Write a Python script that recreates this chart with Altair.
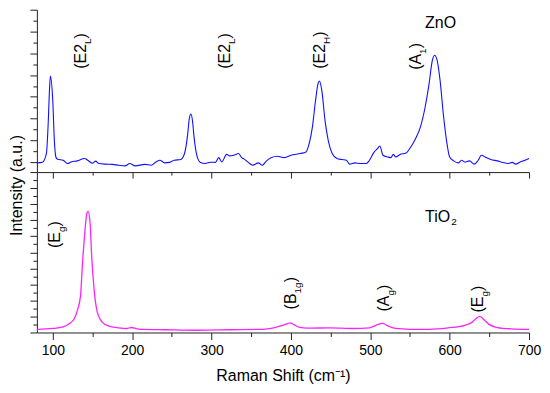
import altair as alt
import pandas as pd

# ---------------- data ----------------
zno_shift = [80, 87, 92, 94, 96, 97, 100, 102, 104, 106, 113, 119, 123, 131, 140, 144, 150, 154,
             158, 166, 175, 183, 191, 197, 204, 216, 224, 230, 235, 241, 247, 253, 261, 266, 270,
             272, 274, 276, 278, 282, 286, 292, 299, 305, 309, 313, 319, 323, 328, 334, 338, 342,
             348, 352, 359, 364, 369, 375, 383, 392, 400, 412, 419, 423, 427, 431, 434, 436, 439,
             443, 447, 452, 458, 464, 470, 474, 481, 487, 495, 499, 505, 509, 512, 516, 522, 526,
             529, 532, 538, 545, 551, 557, 563, 569, 574, 578, 581, 584, 588, 592, 596, 600, 605,
             611, 615, 619, 625, 631, 636, 640, 646, 652, 660, 667, 673, 679, 683, 689, 695, 700]
zno_int = [-0.03, 0.00, 0.41, 1.59, 3.41, 3.95, 2.82, 1.00, 0.23, 0.14, 0.09, -0.06, 0.01, 0.06,
           0.17, 0.09, -0.05, 0.05, -0.06, -0.09, -0.10, -0.14, -0.17, -0.06, -0.17, -0.10, -0.14,
           0.01, 0.09, -0.03, -0.01, 0.09, 0.12, 0.40, 1.30, 2.00, 2.21, 1.91, 1.15, 0.24, -0.01,
           -0.06, 0.00, -0.01, 0.21, 0.01, 0.36, 0.29, 0.32, 0.40, 0.21, 0.12, -0.06, -0.14, -0.03,
           -0.14, 0.05, 0.20, 0.27, 0.21, 0.32, 0.40, 0.47, 0.85, 1.60, 2.82, 3.58, 3.73, 3.27,
           1.91, 1.00, 0.40, 0.17, 0.12, 0.09, -0.09, -0.03, -0.06, -0.06, 0.09, 0.47, 0.62, 0.74,
           0.32, 0.24, 0.21, 0.36, 0.24, 0.36, 0.42, 0.70, 1.08, 1.60, 2.51, 3.58, 4.64, 4.91,
           4.71, 3.73, 2.21, 1.00, 0.24, 0.06, -0.03, 0.09, 0.01, 0.06, -0.09, 0.09, 0.32, 0.21,
           0.12, 0.06, -0.01, -0.06, -0.01, -0.09, 0.01, 0.09, 0.17]

tio2_shift = [80, 100, 113, 121, 127, 131, 135, 137, 140, 143, 144.5, 147, 149, 152, 156, 162, 170,
              183, 193, 199, 206, 216, 241, 282, 323, 365, 375, 387, 396, 399, 404, 410, 421, 450,
              478, 499, 507, 516, 522, 532, 549, 574, 598, 619, 627, 633, 638, 644, 650, 660, 677, 700]
tio2_int = [0.20, 0.25, 0.35, 0.56, 0.86, 1.38, 2.30, 3.95, 6.01, 7.45, 7.55, 6.83, 4.77, 2.72,
            1.28, 0.66, 0.41, 0.29, 0.25, 0.31, 0.23, 0.19, 0.17, 0.14, 0.17, 0.20, 0.25, 0.41,
            0.56, 0.60, 0.49, 0.33, 0.27, 0.29, 0.25, 0.29, 0.45, 0.57, 0.41, 0.25, 0.20, 0.20,
            0.29, 0.45, 0.60, 0.86, 1.01, 0.76, 0.49, 0.31, 0.23, 0.20]

# peak labels (anchor = start of rotated text)
top_lbl_shift = [135, 317, 437, 558]
top_lbl_int = [4.29, 4.29, 4.29, 4.24]
top_lbl_main = ["(E2", "(E2", "(E2", "(A"]
top_lbl_sub = ["L", "L", "H", "1"]

bot_lbl_shift = [103, 400, 517, 636]
bot_lbl_int = [5.27, 1.44, 1.31, 1.25]
bot_lbl_main = ["(E", "(B", "(A", "(E"]
bot_lbl_sub = ["g", "1g", "g", "g"]

name_shift = [569, 569]
name_top_int = [6.41]
name_bot_int = [7.19]

x_major = list(range(100, 701, 100))
x_minor = list(range(150, 700, 100))
top_y_major = list(range(0, 8))
top_y_minor = [i + 0.5 for i in range(0, 7)]
bot_y_major = list(range(0, 11))
bot_y_minor = [i + 0.5 for i in range(0, 10)]

# ---------------- style ----------------
FONT = "Liberation Sans"
AX = "#222222"
MAIN_FS = 16
SUB_FS = 10
ADV = {"(": .333, ")": .333, "E": .667, "A": .667, "B": .667, "2": .556, "1": .556,
       "L": .556, "H": .722, "g": .556, "T": .611, "i": .222, "O": .778}


def text_w(s, size):
    return sum(ADV[c] for c in s) * size


x_scale = alt.Scale(domain=[80, 700], nice=False, zero=False)
top_scale = alt.Scale(domain=[-0.4545, 7], nice=False, zero=False)
bot_scale = alt.Scale(domain=[0, 10], nice=False, zero=False)

W = 494
H_TOP = 163
H_BOT = 161

AXSTYLE = dict(grid=False, domainColor=AX, tickColor=AX, domainWidth=1, tickWidth=1)


def label_df(shift, inten, main, sub):
    return pd.DataFrame({
        "w": shift, "v": inten, "main": main, "sub": sub,
        "close": [")"] * len(main),
        "dsub": [text_w(m, MAIN_FS) for m in main],
        "dclose": [text_w(m, MAIN_FS) + text_w(s, SUB_FS) for m, s in zip(main, sub)],
    })


def label_layers(df, yscale):
    enc = dict(x=alt.X("w:Q", scale=x_scale, axis=None), y=alt.Y("v:Q", scale=yscale, axis=None))
    common = dict(angle=270, align="left", baseline="middle", font=FONT, color="black")
    base = alt.Chart(df).mark_text(fontSize=MAIN_FS, **common).encode(text="main:N", **enc)
    sub = alt.Chart(df).mark_text(fontSize=SUB_FS, dy=7, dx=alt.ExprRef(expr="datum.dsub"),
                                  **common).encode(text="sub:N", **enc)
    close = alt.Chart(df).mark_text(fontSize=MAIN_FS, dx=alt.ExprRef(expr="datum.dclose"),
                                    **common).encode(text="close:N", **enc)
    return [base, sub, close]


# ---------------- top panel (ZnO) ----------------
zno_df = pd.DataFrame({"w": zno_shift, "v": zno_int})
top_line = alt.Chart(zno_df).mark_line(
    color="#1010ff", strokeWidth=1.1, interpolate="monotone"
).encode(
    x=alt.X("w:Q", scale=x_scale,
            axis=alt.Axis(values=x_major, labels=False, title=None, tickSize=6, orient="bottom",
                          **AXSTYLE)),
    y=alt.Y("v:Q", scale=top_scale,
            axis=alt.Axis(values=top_y_major, labels=False, tickSize=7, orient="left",
                          title="Intensity (a.u.)", titleFont=FONT, titleFontSize=16,
                          titleFontWeight="normal", titleColor="black", titleAngle=270,
                          titleX=-20, titleY=176, titleAlign="center", titleBaseline="middle",
                          **AXSTYLE)),
)
top_minor = alt.Chart(zno_df).mark_line(strokeOpacity=0).encode(
    x=alt.X("w:Q", scale=x_scale,
            axis=alt.Axis(values=x_minor, labels=False, title=None, tickSize=3, domain=False,
                          orient="bottom", **AXSTYLE)),
    y=alt.Y("v:Q", scale=top_scale,
            axis=alt.Axis(values=top_y_minor, labels=False, title=None, tickSize=4, domain=False,
                          orient="left", **AXSTYLE)),
)

zno_name = alt.Chart(pd.DataFrame({"w": name_shift[:1], "v": name_top_int, "t": ["ZnO"]})).mark_text(
    align="left", baseline="middle", font=FONT, fontSize=MAIN_FS, color="black"
).encode(x=alt.X("w:Q", scale=x_scale, axis=None), y=alt.Y("v:Q", scale=top_scale, axis=None),
         text="t:N")

top = alt.layer(
    top_line, top_minor,
    *label_layers(label_df(top_lbl_shift, top_lbl_int, top_lbl_main, top_lbl_sub), top_scale),
    zno_name
).resolve_axis(x="independent", y="independent").properties(width=W, height=H_TOP)

# ---------------- bottom panel (TiO2) ----------------
tio_line_df = pd.DataFrame({"w": tio2_shift, "v": tio2_int})
bot_line = alt.Chart(tio_line_df).mark_line(
    color="#ff22ff", strokeWidth=1.3, interpolate="monotone"
).encode(
    x=alt.X("w:Q", scale=x_scale,
            axis=alt.Axis(values=x_major, labelFont=FONT, labelFontSize=14, labelColor="black",
                          labelPadding=4, labelFlush=False, tickSize=7, orient="bottom",
                          title="Raman Shift (cm\u207b\u00b9)", titleFont=FONT, titleFontSize=16,
                          titleFontWeight="normal", titleColor="black", titlePadding=10,
                          **AXSTYLE)),
    y=alt.Y("v:Q", scale=bot_scale,
            axis=alt.Axis(values=bot_y_major, labels=False, title=None, tickSize=7, orient="left",
                          **AXSTYLE)),
)
bot_minor = alt.Chart(tio_line_df).mark_line(strokeOpacity=0).encode(
    x=alt.X("w:Q", scale=x_scale,
            axis=alt.Axis(values=x_minor, labels=False, title=None, tickSize=4, domain=False,
                          orient="bottom", **AXSTYLE)),
    y=alt.Y("v:Q", scale=bot_scale,
            axis=alt.Axis(values=bot_y_minor, labels=False, title=None, tickSize=4, domain=False,
                          orient="left", **AXSTYLE)),
)

tio_df = pd.DataFrame({"w": name_shift[1:], "v": name_bot_int, "t": ["TiO"], "s": ["2"]})
tio_name = alt.Chart(tio_df).mark_text(
    align="left", baseline="middle", font=FONT, fontSize=MAIN_FS, color="black"
).encode(x=alt.X("w:Q", scale=x_scale, axis=None), y=alt.Y("v:Q", scale=bot_scale, axis=None),
         text="t:N")
tio_sub = alt.Chart(tio_df).mark_text(
    align="left", baseline="middle", font=FONT, fontSize=SUB_FS, color="black",
    dx=text_w("TiO", MAIN_FS) + 0.5, dy=5
).encode(x=alt.X("w:Q", scale=x_scale, axis=None), y=alt.Y("v:Q", scale=bot_scale, axis=None),
         text="s:N")

bottom = alt.layer(
    bot_line, bot_minor,
    *label_layers(label_df(bot_lbl_shift, bot_lbl_int, bot_lbl_main, bot_lbl_sub), bot_scale),
    tio_name, tio_sub
).resolve_axis(x="independent", y="independent").properties(width=W, height=H_BOT)

chart = alt.vconcat(top, bottom, spacing=0, bounds="flush").properties(
    padding={"left": 0, "top": 0, "right": 0, "bottom": 0}
).configure_view(stroke="transparent")

chart.save("out.html", embed_options={"renderer": "svg", "actions": False})
